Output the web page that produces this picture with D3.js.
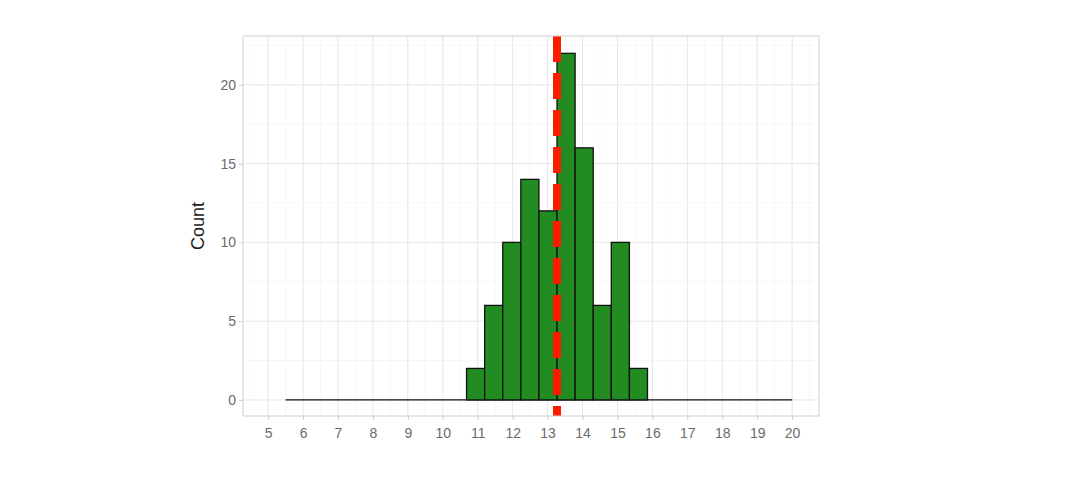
<!DOCTYPE html>
<html><head><meta charset="utf-8">
<script src="https://cdn.jsdelivr.net/npm/d3@7"></script>
<style>body{margin:0;background:#fff;font-family:"Liberation Sans",Arial,sans-serif}</style>
</head><body>
<svg id="c" width="1083" height="499"></svg>
<script>
// histogram bins: start 5.5, width 0.518, counts per bin
var binStart = 5.5;
var binWidth = 0.518;
var counts = [0,0,0,0,0,0,0,0,0,0, 2,6,10,14,12,22,16,6,10,2, 0,0,0,0,0,0,0,0];
var meanLine = 13.27;
var xTicks = d3.range(5, 21);
var yTicks = [0, 5, 10, 15, 20];

var svg = d3.select("#c");
var L = 243, R = 819, T = 36, B = 416;
var x = d3.scaleLinear().domain([4.28, 20.77]).range([L, R]);
var y = d3.scaleLinear().domain([-1.02, 23.1]).range([B, T]);

var g = svg.append("g");
// minor grid
d3.range(4.5, 21, 1).forEach(function (v) {
  g.append("line").attr("x1", x(v)).attr("x2", x(v)).attr("y1", T).attr("y2", B)
    .attr("stroke", "#f2f2f2").attr("stroke-width", 0.6);
});
[2.5, 7.5, 12.5, 17.5, 22.5].forEach(function (v) {
  g.append("line").attr("x1", L).attr("x2", R).attr("y1", y(v)).attr("y2", y(v))
    .attr("stroke", "#f2f2f2").attr("stroke-width", 0.6);
});
// major grid
xTicks.forEach(function (v) {
  g.append("line").attr("x1", x(v)).attr("x2", x(v)).attr("y1", T).attr("y2", B)
    .attr("stroke", "#e6e6e6").attr("stroke-width", 1);
});
yTicks.forEach(function (v) {
  g.append("line").attr("x1", L).attr("x2", R).attr("y1", y(v)).attr("y2", y(v))
    .attr("stroke", "#e6e6e6").attr("stroke-width", 1);
});

// baseline of empty bins (zero-height outline)
g.append("line")
  .attr("x1", x(binStart)).attr("x2", x(binStart + counts.length * binWidth))
  .attr("y1", y(0)).attr("y2", y(0)).attr("stroke", "#111").attr("stroke-width", 1.3);

// bars
counts.forEach(function (c, i) {
  if (c === 0) return;
  var x0 = binStart + i * binWidth;
  g.append("rect")
    .attr("x", x(x0)).attr("width", x(x0 + binWidth) - x(x0))
    .attr("y", y(c)).attr("height", y(0) - y(c))
    .attr("fill", "#228B22").attr("stroke", "#111").attr("stroke-width", 1.3);
});

// mean line
g.append("line").attr("x1", x(meanLine)).attr("x2", x(meanLine)).attr("y1", T).attr("y2", B)
  .attr("stroke", "#ff1a00").attr("stroke-width", 8).attr("stroke-dasharray", "26 11");

// panel border
g.append("rect").attr("x", L).attr("y", T).attr("width", R - L).attr("height", B - T)
  .attr("fill", "none").attr("stroke", "#cfcfcf").attr("stroke-width", 1);

// axes
var xa = svg.append("g").attr("transform", "translate(0," + B + ")")
  .call(d3.axisBottom(x).tickValues(xTicks).tickSize(4).tickFormat(d3.format("d")));
var ya = svg.append("g").attr("transform", "translate(" + L + ",0)")
  .call(d3.axisLeft(y).tickValues(yTicks).tickSize(4));
[xa, ya].forEach(function (a) {
  a.select(".domain").remove();
  a.selectAll("line").attr("stroke", "#cfcfcf");
  a.selectAll("text").attr("fill", "#6b6b6b").attr("font-size", 14)
    .attr("font-family", "Liberation Sans, Arial, sans-serif");
});
xa.selectAll("text").attr("dy", "1.1em");

svg.append("text").attr("transform", "translate(204," + ((T + B) / 2) + ") rotate(-90)")
  .attr("text-anchor", "middle").attr("font-size", 18).attr("fill", "#222").text("Count");
</script>
</body></html>
